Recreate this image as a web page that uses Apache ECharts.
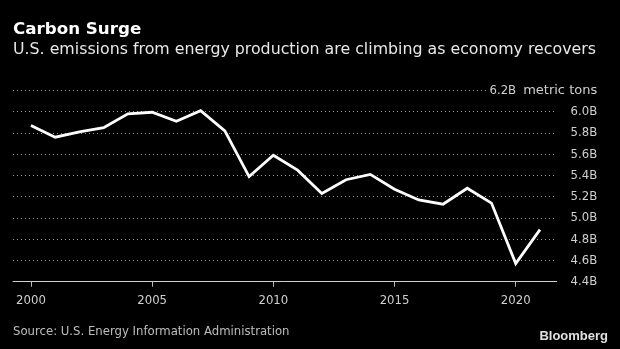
<!DOCTYPE html>
<html>
<head>
<meta charset="utf-8">
<script src="https://cdn.jsdelivr.net/npm/echarts@6/dist/echarts.min.js"></script>
<style>
  html, body { margin: 0; padding: 0; background: #000; }
  #chart { width: 620px; height: 349px; }
</style>
</head>
<body>
<div id="chart"></div>
<script>
const years = [2000, 2001, 2002, 2003, 2004, 2005, 2006, 2007, 2008, 2009, 2010,
               2011, 2012, 2013, 2014, 2015, 2016, 2017, 2018, 2019, 2020, 2021];
const emissions = [5.87, 5.76, 5.81, 5.85, 5.98, 5.995, 5.91, 6.01, 5.82, 5.39, 5.59,
                   5.45, 5.23, 5.36, 5.41, 5.27, 5.17, 5.13, 5.28, 5.14, 4.57, 4.89];
const xTickYears = [2000, 2005, 2010, 2015, 2020];
const yMin = 4.4, yMax = 6.2, yStep = 0.2;
const titleText = 'Carbon Surge';
const subtitleText = 'U.S. emissions from energy production are climbing as economy recovers';
const sourceText = 'Source: U.S. Energy Information Administration';
const unitText = 'metric tons';

const FONT = '"DejaVu Sans Condensed", "DejaVu Sans", sans-serif';
const FONT_REG = '"DejaVu Sans", sans-serif';
const chart = echarts.init(document.getElementById('chart'), null, { renderer: 'canvas' });

chart.setOption({
  backgroundColor: '#000',
  animation: false,
  grid: { left: 13, right: 63.3, top: 90.5, bottom: 67.3, containLabel: false, outerBoundsMode: 'none' },
  xAxis: {
    type: 'value',
    min: 1999.26,
    max: 2021.69,
    axisLine: { show: true, lineStyle: { color: '#d0d0d0', width: 1 } },
    axisTick: { show: true, length: 5, lineStyle: { color: '#bbb' }, customValues: xTickYears },
    axisLabel: {
      customValues: xTickYears,
      formatter: v => String(v),
      color: '#cfcfcf', fontFamily: FONT, fontSize: 13,
      margin: 19.3, verticalAlign: 'middle'
    },
    splitLine: { show: false }
  },
  yAxis: {
    type: 'value',
    position: 'right',
    min: yMin, max: yMax, interval: yStep,
    axisLine: { show: false },
    axisTick: { show: false },
    splitLine: { show: true, lineStyle: { color: '#9a9a9a', type: [1, 3], width: 1.2 } },
    axisLabel: {
      align: 'right',
      margin: 40.5,
      color: '#cfcfcf', fontFamily: FONT, fontSize: 13,
      formatter: v => {
        const s = v.toFixed(1) + 'B';
        if (Math.abs(v - yMax) < 1e-6) return '{top|' + s + '}{unit|' + unitText + '}';
        return s;
      },
      rich: {
        top: { color: '#cfcfcf', fontFamily: FONT, fontSize: 13, backgroundColor: '#000', padding: [2, 0, 2, 3] },
        unit: { color: '#cfcfcf', fontFamily: FONT_REG, fontSize: 13, backgroundColor: '#000', padding: [2, 0, 2, 7] }
      }
    }
  },
  series: [{
    type: 'line',
    data: years.map((y, i) => [y, emissions[i]]),
    showSymbol: false,
    lineStyle: { color: '#ffffff', width: 2.8, join: 'miter' },
    z: 5
  }],
  graphic: [
    { type: 'text', x: 13, y: 29.7, style: { text: titleText, fill: '#ffffff', font: 'bold 16.7px ' + FONT_REG, verticalAlign: 'middle', textVerticalAlign: 'middle' } },
    { type: 'text', x: 13, y: 50, style: { text: subtitleText, fill: '#e8e8e8', font: '15.8px ' + FONT_REG, verticalAlign: 'middle', textVerticalAlign: 'middle' } },
    { type: 'text', x: 13, y: 332, style: { text: sourceText, fill: '#bdbdbd', font: '13px ' + FONT, verticalAlign: 'middle', textVerticalAlign: 'middle' } },
    { type: 'text', x: 608, y: 336.3, style: { text: 'Bloomberg', fill: '#e0e0e0', font: 'bold 13px "Liberation Sans", Arial, sans-serif', align: 'right', textAlign: 'right', verticalAlign: 'middle', textVerticalAlign: 'middle' } }
  ]
});
</script>
</body>
</html>
